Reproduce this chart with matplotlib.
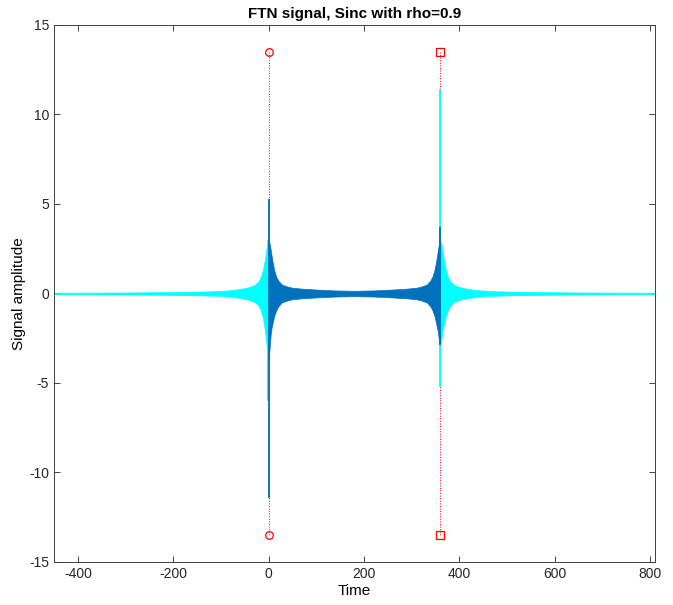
import matplotlib
matplotlib.use("Agg")
import matplotlib.pyplot as plt

plt.rcParams['font.family'] = ['Liberation Sans', 'DejaVu Sans']
plt.rcParams['axes.unicode_minus'] = False

# envelope of the oscillating signal
# left tail (cyan), t < 0
t_left = [-450, -400, -350, -300, -250, -200, -150, -110, -85, -65, -50, -38,
          -28, -21, -16, -12, -9, -6.5, -4.5, -3, -1.8, -0.8, 0]
up_left = [0.04, 0.045, 0.05, 0.055, 0.065, 0.08, 0.1, 0.13, 0.17, 0.23, 0.3,
           0.38, 0.5, 0.68, 0.95, 1.3, 1.7, 2.1, 2.45, 2.7, 2.85, 2.9, 2.9]
lo_left = [-0.04, -0.045, -0.05, -0.055, -0.065, -0.08, -0.1, -0.13, -0.17, -0.23,
           -0.3, -0.38, -0.5, -0.68, -0.95, -1.35, -1.8, -2.3, -2.8, -3.2, -3.5,
           -3.7, -3.7]

# middle section (dark blue), 0 < t < 360
t_mid = [0, 0.8, 1.8, 3, 4.5, 6.5, 9, 12, 16, 21, 28, 38, 50, 70, 100, 140, 180,
         220, 260, 290, 310, 322, 332, 339, 344, 348, 351, 353.5, 355.5, 357,
         358.2, 359.2, 360]
up_mid = [2.9, 2.9, 2.85, 2.7, 2.45, 2.1, 1.7, 1.3, 0.95, 0.7, 0.5, 0.4, 0.32,
          0.27, 0.22, 0.17, 0.15, 0.17, 0.22, 0.27, 0.32, 0.4, 0.5, 0.7, 0.95,
          1.3, 1.7, 2.1, 2.45, 2.7, 2.85, 2.9, 2.9]
lo_mid = [-3.7, -3.5, -3.2, -2.8, -2.3, -1.9, -1.6, -1.25, -0.95, -0.7, -0.5,
          -0.4, -0.32, -0.27, -0.22, -0.17, -0.15, -0.17, -0.22, -0.27, -0.32,
          -0.4, -0.5, -0.7, -0.95, -1.25, -1.6, -1.9, -2.2, -2.5, -2.7, -2.8, -2.8]

# right tail (cyan), t > 360
t_right = [360, 360.8, 361.8, 363, 364.5, 366.5, 369, 372, 376, 381, 388, 398,
           410, 425, 445, 470, 510, 560, 610, 660, 710, 760, 810]
up_right = [2.9, 2.9, 2.85, 2.7, 2.45, 2.1, 1.7, 1.3, 0.95, 0.68, 0.5, 0.38,
            0.3, 0.23, 0.17, 0.13, 0.1, 0.08, 0.065, 0.055, 0.05, 0.045, 0.04]
lo_right = [-2.8, -2.8, -2.7, -2.5, -2.2, -1.9, -1.6, -1.25, -0.95, -0.68, -0.5,
            -0.38, -0.3, -0.23, -0.17, -0.13, -0.1, -0.08, -0.065, -0.055,
            -0.05, -0.045, -0.04]

# narrow spikes at the two block edges: (time, min, max)
spike_cyan = [(-0.6, -6.0, 3.0), (360.6, -5.2, 11.4)]
spike_blue = [(0.3, -11.4, 5.26), (359.6, -2.9, 3.7)]

# red markers
mark_t = [0, 360]
mark_y = 13.5

cyan = '#00FFFF'
blue = '#0072BD'

fig = plt.figure(figsize=(6.73, 6.05), dpi=100)
ax = fig.add_axes([0.0802, 0.0711, 0.8926, 0.8876])

# dotted guides sit under the signal
ax.plot([mark_t[0], mark_t[0]], [mark_y, -mark_y], ':', color='red', lw=0.7, zorder=1)
ax.plot([mark_t[1], mark_t[1]], [mark_y, -mark_y], ':', color='red', lw=0.7, zorder=1)

ax.fill_between(t_left, lo_left, up_left, color=cyan, lw=0.5, zorder=2)
ax.fill_between(t_right, lo_right, up_right, color=cyan, lw=0.5, zorder=2)
for t, lo, hi in spike_cyan:
    ax.vlines(t, lo, hi, color=cyan, lw=1.3, zorder=2)

ax.fill_between(t_mid, lo_mid, up_mid, color=blue, lw=0.5, zorder=3)
for t, lo, hi in spike_blue:
    ax.vlines(t, lo, hi, color=blue, lw=1.3, zorder=3)

ax.plot([mark_t[0]] * 2, [mark_y, -mark_y], 'o', color='red', ms=5.5,
        mfc='none', mew=0.9, ls='none', zorder=4)
ax.plot([mark_t[1]] * 2, [mark_y, -mark_y], 's', color='red', ms=5.5,
        mfc='none', mew=0.9, ls='none', zorder=4)

ax.set_xlim(-450, 810)
ax.set_ylim(-15, 15)
ax.set_xticks([-400, -200, 0, 200, 400, 600, 800])
ax.set_yticks([-15, -10, -5, 0, 5, 10, 15])
ax.tick_params(direction='in', top=True, right=True, length=4, width=0.6,
               labelsize=10, colors='#262626')
for s in ax.spines.values():
    s.set_linewidth(0.7)
    s.set_color('#404040')

ax.set_title('FTN signal, Sinc with rho=0.9', fontsize=11, fontweight='bold', pad=5)
ax.set_xlabel('Time', fontsize=11, labelpad=2)
ax.set_ylabel('Signal amplitude', fontsize=11, labelpad=2)

plt.savefig('out.png', dpi=100)
